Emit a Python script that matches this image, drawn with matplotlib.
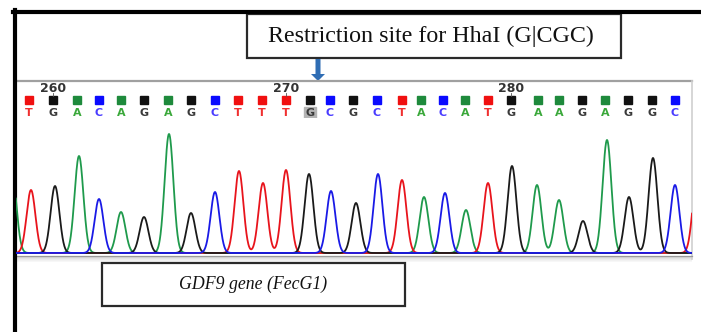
import numpy as np
import matplotlib.pyplot as plt
from matplotlib.patches import Rectangle, FancyArrow

# called bases, starting at position 259
bases = "TGACAGAGCTTTGCGCTACATGAAGAGGC"
first_pos = 259
base_x = [29, 53, 77, 99, 121, 144, 168, 191, 215, 238, 262, 286, 310, 330,
          353, 377, 402, 421, 443, 465, 488, 511, 538, 559, 582, 605, 628, 652, 675]

# trace peaks (scan position, height)
peak_x = [31, 55, 79, 99, 121, 144, 169, 191, 215, 239, 263, 286, 309, 331,
          356, 378, 402, 424, 445, 466, 488, 512, 537, 559, 583, 607, 629, 653, 675]
peak_h = [63, 67, 97, 54, 41, 36, 119, 40, 61, 82, 70, 83, 79, 62,
          50, 79, 73, 56, 60, 43, 70, 87, 68, 53, 32, 113, 56, 95, 68]
# partial peaks cut by the window edges
edge_x = [12, 697]
edge_base = ["A", "T"]
edge_h = [80, 75]

site_label = "Restriction site for HhaI (G|CGC)"
gene_label = "GDF9 gene (FecG1)"
highlight_pos = 271

trace_col = {"A": "#1f9a4c", "C": "#1a1ae6", "G": "#1a1a1a", "T": "#e8141c"}
square_col = {"A": "#1e8a3c", "C": "#0a0aff", "G": "#111111", "T": "#f01010"}
letter_col = {"A": "#3aa83a", "C": "#4a3cff", "G": "#3a3a3a", "T": "#f03030"}

W, H = 701, 332
fig = plt.figure(figsize=(W / 100, H / 100), dpi=100)

# overlay in pixel units for frames and boxes
ov = fig.add_axes([0, 0, 1, 1])
ov.set_xlim(0, W)
ov.set_ylim(H, 0)
ov.axis("off")

# trace panel
ax = fig.add_axes([16 / W, (H - 257) / H, (692 - 16) / W, (257 - 118) / H])
ax.set_xlim(16, 692)
ax.set_ylim(-4, 135)
ax.axis("off")

xs = np.linspace(0, 710, 3000)
sigma = 4.4
all_x = peak_x + edge_x
all_b = list(bases) + edge_base
all_h = peak_h + edge_h
for b in ["A", "T", "G", "C"]:
    y = np.zeros_like(xs)
    for px, pb, ph in zip(all_x, all_b, all_h):
        if pb == b:
            y += ph * np.exp(-(xs - px) ** 2 / (2 * sigma ** 2))
    ax.plot(xs, y, color=trace_col[b], lw=1.3, solid_joinstyle="round")

# sequence panel
sq = fig.add_axes([16 / W, (H - 118) / H, (692 - 16) / W, (118 - 80) / H])
sq.set_xlim(16, 692)
sq.set_ylim(118, 80)
sq.axis("off")
for i, (b, x) in enumerate(zip(bases, base_x)):
    pos = first_pos + i
    sq.plot(x, 100, marker="s", ms=5.6, color=square_col[b], mec=square_col[b])
    if pos == highlight_pos:
        sq.add_patch(Rectangle((x - 6, 106.5), 12, 12.5, color="#b4b4b4", zorder=1))
    sq.text(x, 112.5, b, color=letter_col[b], fontsize=8, fontweight="bold",
            ha="center", va="center", zorder=3)
    if pos % 10 == 0:
        sq.text(x, 88, str(pos), color="#333333", fontsize=9, fontweight="bold",
                ha="center", va="center")
        sq.plot([x, x], [93, 96], color="#555555", lw=0.6)

# window lines
ov.plot([16, 692], [80.5, 80.5], color="#a0a0a0", lw=1.6)
ov.plot([692, 692], [81, 259], color="#d0d0d0", lw=1.2)
ov.plot([16, 692], [256, 256], color="#9a9a9a", lw=0.9)
for k, c in enumerate(["#d8d8d8", "#e2e2e2", "#eaeaea", "#f1f1f1", "#f7f7f7"]):
    ov.add_patch(Rectangle((16, 257 + k), 676, 1, color=c, lw=0))

# outer frame
ov.plot([14.5, 14.5], [10, H], color="black", lw=3)
ov.plot([13, W], [11.5, 11.5], color="black", lw=3)

# label boxes
ov.add_patch(Rectangle((247, 14), 374, 44, fill=False, ec="#2a2a2a", lw=1.6))
ov.text(431, 36, site_label, family="Liberation Serif", fontsize=17.3,
        ha="center", va="center", color="#111111")
ov.add_patch(FancyArrow(318, 59, 0, 22, width=5, head_width=14, head_length=7,
                        length_includes_head=True, color="#2f6db4", lw=0))

ov.add_patch(Rectangle((102, 263), 303, 43, fill=False, ec="#2a2a2a", lw=1.6))
ov.text(253, 284, gene_label, family="Liberation Serif", style="italic",
        fontsize=12.8, ha="center", va="center", color="#111111")

fig.savefig("out.png", dpi=100)
